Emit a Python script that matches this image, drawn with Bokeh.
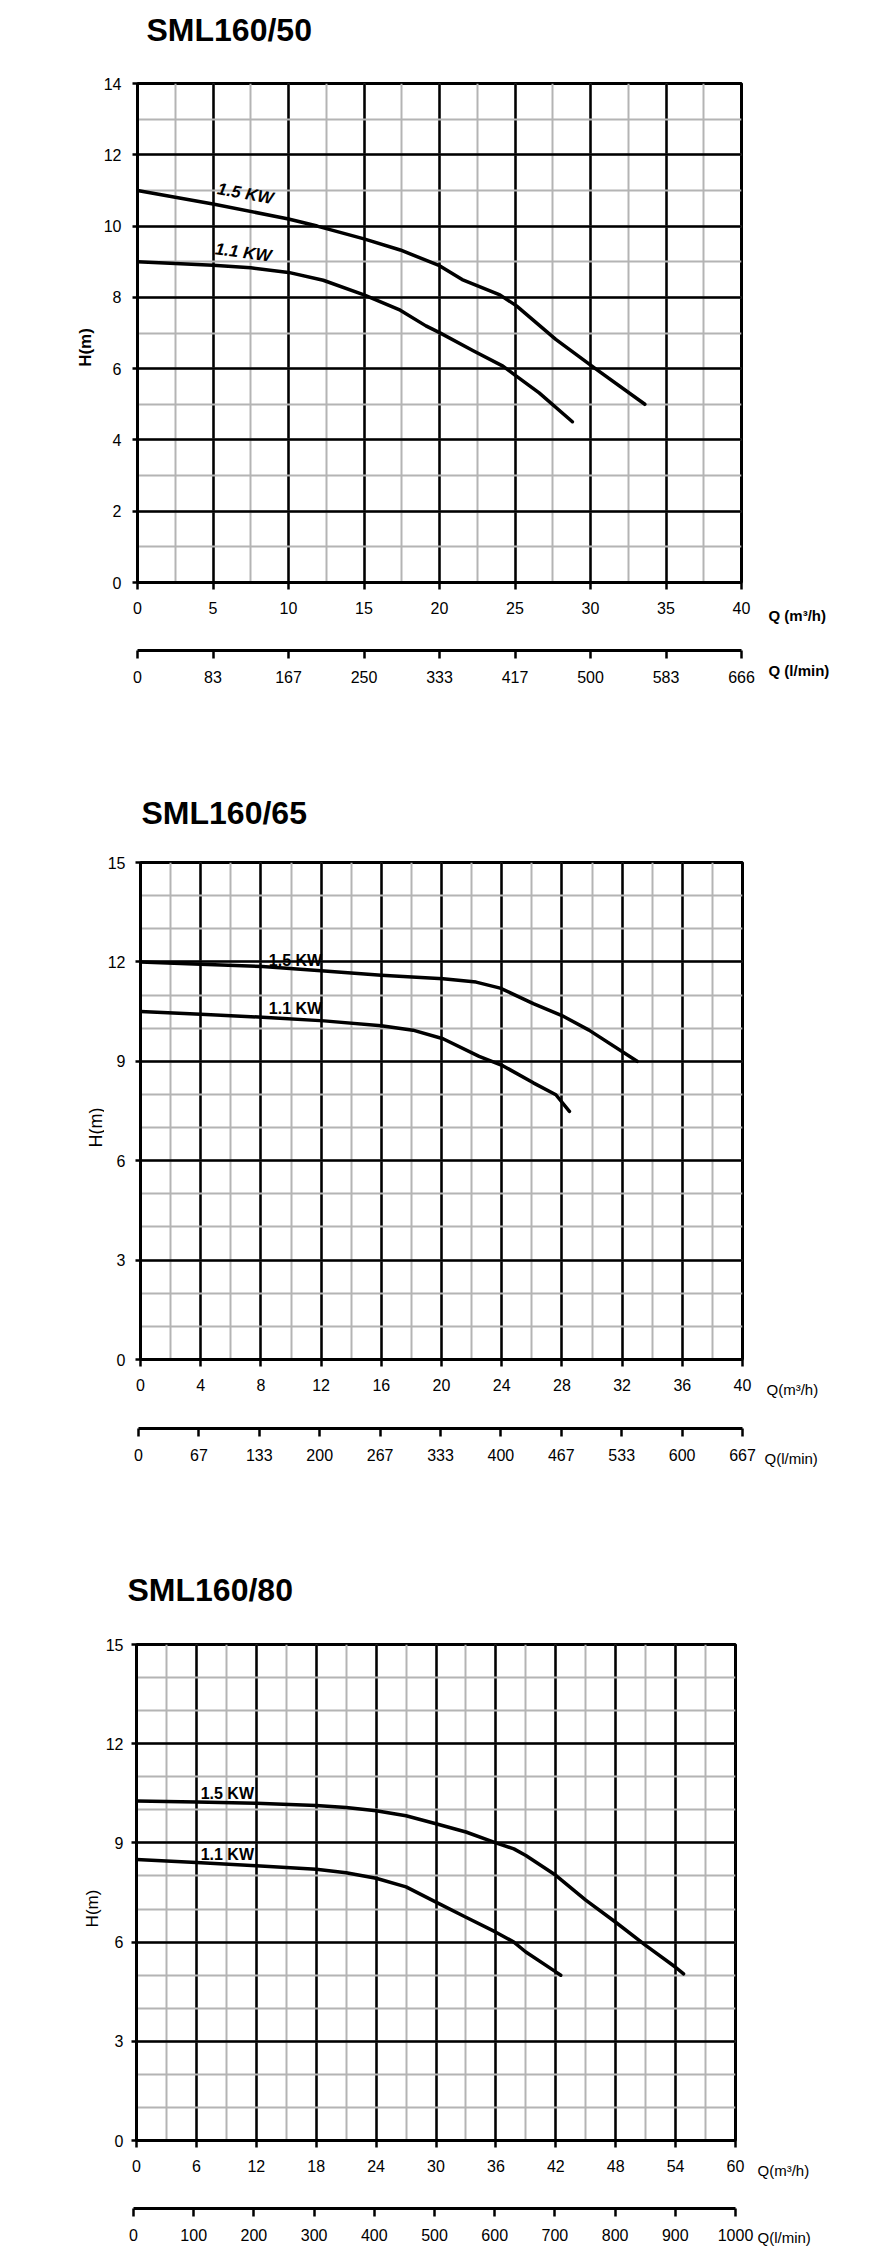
from bokeh.plotting import figure
from bokeh.layouts import column, row
from bokeh.models import Range1d, SingleIntervalTicker, Label
from bokeh.embed import file_html
from bokeh.resources import INLINE
import math

# ---------------- data ----------------
titles = ["SML160/50", "SML160/65", "SML160/80"]

# SML160/50
q50_15 = [0, 5, 10, 11.9, 15, 17.4, 20, 21.5, 24, 25.1, 27.7, 30.3, 33.6]
h50_15 = [11.0, 10.62, 10.2, 10.0, 9.64, 9.33, 8.89, 8.5, 8.07, 7.76, 6.82, 6.01, 5.0]
q50_11 = [0, 5, 7.5, 10, 12.3, 15, 17.4, 19.1, 20, 22.2, 24.2, 25, 26.6, 28.8]
h50_11 = [9.0, 8.9, 8.83, 8.7, 8.48, 8.07, 7.64, 7.2, 7.01, 6.51, 6.07, 5.82, 5.32, 4.51]
m3h_ticks_50 = [0, 5, 10, 15, 20, 25, 30, 35, 40]
lmin_labels_50 = ["0", "83", "167", "250", "333", "417", "500", "583", "666"]

# SML160/65
q65_15 = [0, 4, 8.1, 12, 16, 20.1, 22.3, 23.9, 26.1, 28, 29.8, 33]
h65_15 = [12.0, 11.93, 11.86, 11.73, 11.6, 11.49, 11.39, 11.21, 10.74, 10.38, 9.94, 9.0]
q65_11 = [0, 4, 8.1, 12.2, 16, 18.1, 20.1, 22.5, 24.1, 26.1, 27.6, 28.5]
h65_11 = [10.5, 10.42, 10.33, 10.22, 10.07, 9.94, 9.68, 9.15, 8.86, 8.35, 7.99, 7.49]
m3h_ticks_65 = [0, 4, 8, 12, 16, 20, 24, 28, 32, 36, 40]
lmin_labels_65 = ["0", "67", "133", "200", "267", "333", "400", "467", "533", "600", "667"]

# SML160/80
q80_15 = [0, 6, 12, 18, 21, 24, 27, 30, 33, 36, 37.8, 39, 42, 45, 48, 51, 54, 54.8]
h80_15 = [10.27, 10.24, 10.2, 10.13, 10.07, 9.97, 9.82, 9.58, 9.33, 9.0, 8.82, 8.62, 8.02, 7.27,
          6.6, 5.9, 5.24, 5.04]
q80_11 = [0, 6, 12, 18, 21, 24, 27, 30, 33, 36, 37.8, 39, 42, 42.5]
h80_11 = [8.5, 8.41, 8.31, 8.2, 8.1, 7.93, 7.67, 7.21, 6.75, 6.3, 6.0, 5.7, 5.1, 5.0]
m3h_ticks_80 = [0, 6, 12, 18, 24, 30, 36, 42, 48, 54, 60]
lmin_labels_80 = ["0", "100", "200", "300", "400", "500", "600", "700", "800", "900", "1000"]

SANS = "Liberation Sans"
TICK_SIZE = "16px"
COMMON = dict(output_backend="svg", toolbar_location=None, tools="", title=None, frame_align=False)


def text_fig(w, h, labels):
    """A blank figure whose frame fills it; used to hold text outside the charts."""
    p = figure(width=w, height=h, x_range=Range1d(0, w), y_range=Range1d(0, h),
               x_axis_location=None, y_axis_location=None,
               min_border=0, min_border_left=0, min_border_right=0,
               min_border_top=0, min_border_bottom=0, **COMMON)
    p.outline_line_color = None
    p.xgrid.visible = False
    p.ygrid.visible = False
    p.background_fill_color = "white"
    p.border_fill_color = "white"
    for lab in labels:
        p.add_layout(Label(text_color="black", **lab))
    return p


def style_axis(ax, tick_out, standoff):
    ax.axis_line_color = "black"
    ax.axis_line_width = 3
    ax.major_tick_line_color = "black"
    ax.major_tick_line_width = 2.5
    ax.minor_tick_line_color = None
    ax.major_tick_in = 0
    ax.major_tick_out = tick_out
    ax.major_label_standoff = standoff
    ax.major_label_text_font = SANS
    ax.major_label_text_font_size = TICK_SIZE
    ax.major_label_text_color = "black"


def main_fig(xmax, ymax, xint, yint, yminor, curves, labs, cfg):
    p = figure(width=cfg["w"], height=cfg["h"], x_range=Range1d(0, xmax), y_range=Range1d(0, ymax),
               min_border_left=cfg["L"], min_border_right=cfg["R"],
               min_border_top=cfg["T"], min_border_bottom=cfg["B"], **COMMON)
    p.background_fill_color = "white"
    p.border_fill_color = "white"
    p.outline_line_color = "black"
    p.outline_line_width = 3
    xt = SingleIntervalTicker(interval=xint, num_minor_ticks=2)
    yt = SingleIntervalTicker(interval=yint, num_minor_ticks=yminor)
    p.xaxis.ticker = xt
    p.yaxis.ticker = yt
    p.xgrid.ticker = xt
    p.ygrid.ticker = yt
    for g in (p.xgrid, p.ygrid):
        g.grid_line_color = "black"
        g.grid_line_width = 2.5
        g.minor_grid_line_color = "#b4b4b4"
        g.minor_grid_line_width = 2
    style_axis(p.xaxis[0], 7, 12)
    style_axis(p.yaxis[0], 5, cfg["yst"])

    for (q, h) in curves:
        p.line(q, h, line_color="black", line_width=3.5, line_cap="round", line_join="round")

    for (txt, lx, ly, ang) in labs:
        p.add_layout(Label(x=lx, y=ly, text=txt, angle=ang, text_align="center",
                           text_baseline="middle", text_font=SANS,
                           text_font_style=cfg["lab_style"], text_font_size=cfg["lab_size"],
                           text_color="black"))
    return p


def axis_fig(xmax, ticks, labels, cfg):
    p = figure(width=cfg["w"], height=cfg["h"], x_range=Range1d(0, xmax), y_range=Range1d(0, 1),
               y_axis_location=None,
               min_border_left=cfg["L"], min_border_right=cfg["R"],
               min_border_top=cfg["T"], min_border_bottom=cfg["B"], **COMMON)
    p.outline_line_color = None
    p.background_fill_color = "white"
    p.border_fill_color = "white"
    p.xgrid.visible = False
    p.ygrid.visible = False
    ax = p.xaxis[0]
    ax.ticker = SingleIntervalTicker(interval=ticks[1] - ticks[0], num_minor_ticks=0)
    ax.major_label_overrides = dict(zip(ticks, labels))
    style_axis(ax, 8, cfg["st"])
    return p


def lbl(text, x, y, size, style="normal", align="left", baseline="middle", angle=0.0):
    return dict(x=x, y=y, text=text, text_font=SANS, text_font_size=size,
                text_font_style=style, text_align=align, text_baseline=baseline, angle=angle)


# ================= chart 1 =================
T1 = text_fig(866, 60, [lbl(titles[0], 146, 31, "32px", "bold", baseline="alphabetic")])
H1 = text_fig(100, 568, [lbl("H(m)", 85, 568 - 287, "17px", "bold", align="center", angle=math.pi / 2)])
A1 = main_fig(40, 14, 5, 2, 2, [(q50_15, h50_15), (q50_11, h50_11)],
              [("1.5 KW", 7.15, 10.91, -0.18), ("1.1 KW", 7.0, 9.26, -0.13)],
              dict(w=655, h=568, L=37, R=14, T=23, B=46, yst=11,
                   lab_style="bold italic", lab_size="17px"))
Q1 = text_fig(111, 568, [lbl("Q (m³/h)", 13, 13, "15px", "bold")])
B1 = axis_fig(40, m3h_ticks_50, lmin_labels_50, dict(w=755, h=72, L=137, R=14, T=21, B=50, st=12))
QB1 = text_fig(111, 72, [lbl("Q (l/min)", 13, 30, "15px", "bold")])

# ================= chart 2 =================
T2 = text_fig(866, 135, [lbl(titles[1], 141, 23, "32px", "bold", baseline="alphabetic")])
H2 = text_fig(104, 570, [lbl("H(m)", 95, 570 - 292, "18px", "normal", align="center", angle=math.pi / 2)])
A2 = main_fig(40, 15, 4, 3, 3, [(q65_15, h65_15), (q65_11, h65_11)],
              [("1.5 KW", 10.3, 12.03, 0), ("1.1 KW", 10.3, 10.59, 0)],
              dict(w=652, h=570, L=34, R=14, T=27, B=46, yst=10,
                   lab_style="bold", lab_size="16px"))
Q2 = text_fig(110, 570, [lbl("Q(m³/h)", 10, 16, "15px")])
B2 = axis_fig(40, m3h_ticks_65, lmin_labels_65, dict(w=756, h=70, L=138, R=14, T=22, B=47, st=12))
QB2 = text_fig(110, 70, [lbl("Q(l/min)", 8, 17, "15px")])

# ================= chart 3 =================
T3 = text_fig(866, 135, [lbl(titles[2], 127, 21, "32px", "bold", baseline="alphabetic")])
H3 = text_fig(102, 576, [lbl("H(m)", 92, 576 - 298, "17px", "normal", align="center", angle=math.pi / 2)])
A3 = main_fig(60, 15, 6, 3, 3, [(q80_15, h80_15), (q80_11, h80_11)],
              [("1.5 KW", 9.1, 10.49, 0), ("1.1 KW", 9.1, 8.65, 0)],
              dict(w=653, h=576, L=31, R=20, T=34, B=46, yst=8,
                   lab_style="bold", lab_size="16px"))
Q3 = text_fig(111, 576, [lbl("Q(m³/h)", 2, 16, "15px")])
B3 = axis_fig(60, m3h_ticks_80, lmin_labels_80, dict(w=755, h=66, L=133, R=20, T=21, B=44, st=12))
QB3 = text_fig(111, 66, [lbl("Q(l/min)", 2, 15, "15px")])

layout = column(
    T1, row(H1, A1, Q1, spacing=0), row(B1, QB1, spacing=0),
    T2, row(H2, A2, Q2, spacing=0), row(B2, QB2, spacing=0),
    T3, row(H3, A3, Q3, spacing=0), row(B3, QB3, spacing=0),
    spacing=0,
)
open("out.html", "w").write(file_html(layout, INLINE))
